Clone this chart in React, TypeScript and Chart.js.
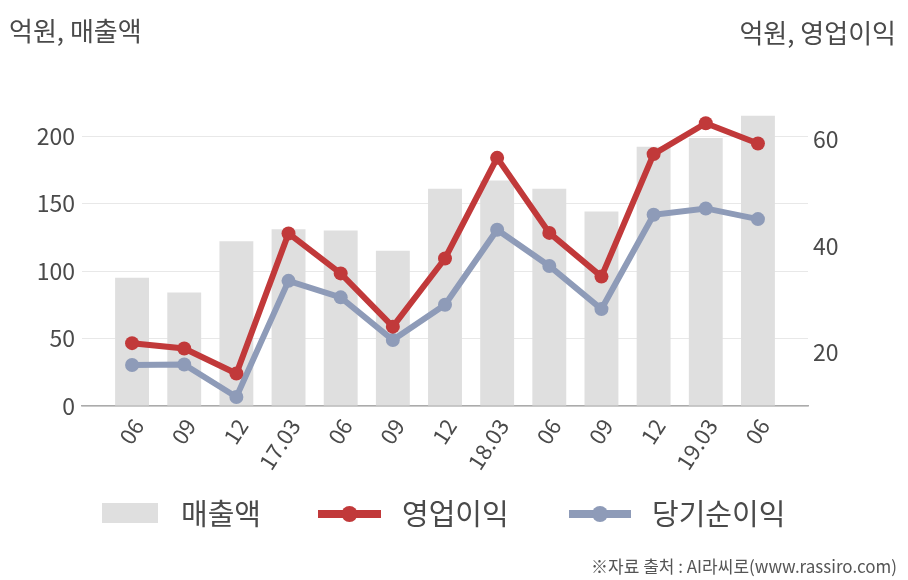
import React, { useEffect, useRef } from "react";
import { Chart, registerables } from "chart.js";

Chart.register(...registerables);

const categories = ["06", "09", "12", "17.03", "06", "09", "12", "18.03", "06", "09", "12", "19.03", "06"];
const sales = [95, 84, 122, 131, 130, 115, 161, 167, 161, 144, 192, 198.5, 215];
const operatingProfit = [21.8, 20.8, 16.1, 42.4, 34.9, 24.9, 37.7, 56.6, 42.5, 34.3, 57.3, 63.1, 59.3];
const netIncome = [17.7, 17.8, 11.7, 33.5, 30.4, 22.4, 29.0, 43.1, 36.3, 28.2, 45.9, 47.1, 45.1];
const leftTicks = [0, 50, 100, 150, 200];
const rightTicks = [20, 40, 60];
const seriesNames = ["매출액", "영업이익", "당기순이익"];
const leftTitle = "억원, 매출액";
const rightTitle = "억원, 영업이익";
const sourceText = "※자료 출처 : AI라씨로(www.rassiro.com)";

const FONT = "'Noto Sans CJK KR', 'Noto Sans', sans-serif";
const TEXT = "#4a4a4a";
const BAR = "#dfdfdf";
const RED = "#c1393a";
const BLUE = "#8e9bb8";

const overlay = {
  id: "overlay",
  afterDraw(chart: any) {
    const ctx = chart.ctx;
    ctx.save();
    ctx.fillStyle = TEXT;
    ctx.textBaseline = "middle";
    ctx.font = `26px ${FONT}`;
    ctx.textAlign = "left";
    ctx.fillText(leftTitle, 9, 31);
    ctx.textAlign = "right";
    ctx.fillText(rightTitle, 896, 33);

    // legend
    const ly = 514;
    ctx.fillStyle = BAR;
    ctx.fillRect(102, 503, 56, 20);
    ctx.font = `29px ${FONT}`;
    ctx.textAlign = "left";
    ctx.fillStyle = TEXT;
    ctx.fillText(seriesNames[0], 181, ly);

    const drawLineItem = (x0: number, x1: number, color: string, label: string, tx: number) => {
      ctx.strokeStyle = color;
      ctx.lineWidth = 8;
      ctx.beginPath();
      ctx.moveTo(x0, ly);
      ctx.lineTo(x1, ly);
      ctx.stroke();
      ctx.fillStyle = color;
      ctx.beginPath();
      ctx.arc((x0 + x1) / 2, ly, 8, 0, Math.PI * 2);
      ctx.fill();
      ctx.fillStyle = TEXT;
      ctx.fillText(label, tx, ly);
    };
    drawLineItem(318, 381, RED, seriesNames[1], 402);
    drawLineItem(569, 631, BLUE, seriesNames[2], 652);

    ctx.font = `17px ${FONT}`;
    ctx.textAlign = "right";
    ctx.fillStyle = "#555";
    ctx.fillText(sourceText, 897, 567);
    ctx.restore();
  },
};

export default function App() {
  const ref = useRef<HTMLCanvasElement | null>(null);

  useEffect(() => {
    if (!ref.current) return;
    const chart = new Chart(ref.current, {
      type: "bar",
      data: {
        datasets: [
          {
            type: "bar",
            label: seriesNames[0],
            data: sales.map((v, i) => ({ x: i, y: v })),
            backgroundColor: BAR,
            barPercentage: 0.65,
            categoryPercentage: 1,
            yAxisID: "y",
            order: 2,
          } as any,
          {
            type: "line",
            label: seriesNames[1],
            data: operatingProfit.map((v, i) => ({ x: i, y: v })),
            borderColor: RED,
            backgroundColor: RED,
            borderWidth: 6,
            pointRadius: 7,
            pointBorderWidth: 0,
            pointBackgroundColor: RED,
            tension: 0,
            yAxisID: "y1",
            order: 0,
          },
          {
            type: "line",
            label: seriesNames[2],
            data: netIncome.map((v, i) => ({ x: i, y: v })),
            borderColor: BLUE,
            backgroundColor: BLUE,
            borderWidth: 6,
            pointRadius: 7,
            pointBorderWidth: 0,
            pointBackgroundColor: BLUE,
            tension: 0,
            yAxisID: "y1",
            order: 1,
          },
        ],
      },
      options: {
        responsive: false,
        animation: false,
        devicePixelRatio: 1,
        layout: { padding: { top: 109, left: 0, right: 0, bottom: 0 } },
        plugins: { legend: { display: false }, tooltip: { enabled: false } },
        font: { family: FONT },
        scales: {
          x: {
            type: "linear",
            offset: false,
            min: -0.96,
            max: 12.96,
            bounds: "data",
            grid: { display: false, drawTicks: false, offset: false },
            border: { display: true, color: "#ababab", width: 1.5 },
            afterBuildTicks: (axis: any) => {
              axis.ticks = categories.map((_, i) => ({ value: i }));
            },
            afterFit: (s: any) => {
              s.height = 174;
            },
            ticks: {
              autoSkip: false,
              maxRotation: 57,
              minRotation: 57,
              padding: 8,
              labelOffset: 6,
              color: TEXT,
              font: { family: FONT, size: 22 },
              callback: (v: any) => categories[Math.round(v)] ?? "",
            },
          },
          y: {
            type: "linear",
            position: "left",
            min: 0,
            max: 220,
            bounds: "data",
            grid: { color: "#e8e8e8", lineWidth: 1, drawTicks: false },
            border: { display: false },
            afterBuildTicks: (axis: any) => {
              axis.ticks = leftTicks.map((v) => ({ value: v }));
            },
            afterFit: (s: any) => {
              s.width = 82;
            },
            ticks: { padding: 7, color: TEXT, font: { family: FONT, size: 23 } },
          },
          y1: {
            type: "linear",
            position: "right",
            min: 10,
            max: 65.77,
            bounds: "data",
            grid: { display: false, drawTicks: false },
            border: { display: false },
            afterBuildTicks: (axis: any) => {
              axis.ticks = rightTicks.map((v) => ({ value: v }));
            },
            afterFit: (s: any) => {
              s.width = 100;
            },
            ticks: { padding: 5, color: TEXT, font: { family: FONT, size: 23 } },
          },
        },
      } as any,
      plugins: [overlay],
    });
    return () => chart.destroy();
  }, []);

  return (
    <div style={{ position: "fixed", left: 0, top: 0, width: 908, height: 580, background: "#fff" }}>
      <canvas ref={ref} width={908} height={580} style={{ width: 908, height: 580, display: "block" }} />
    </div>
  );
}
